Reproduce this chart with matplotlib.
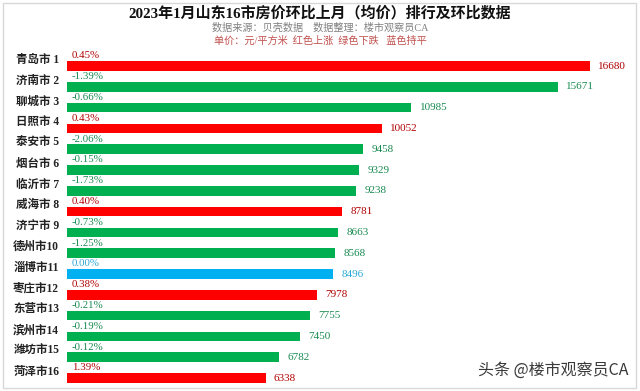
import matplotlib.pyplot as plt
from matplotlib.patches import Rectangle

plt.rcParams['font.family'] = ['Liberation Serif', 'Noto Sans CJK SC', 'DejaVu Sans']

cities = ['青岛市', '济南市', '聊城市', '日照市', '泰安市', '烟台市', '临沂市', '威海市',
          '济宁市', '德州市', '淄博市', '枣庄市', '东营市', '滨州市', '潍坊市', '菏泽市']
prices = [16680, 15671, 10985, 10052, 9458, 9329, 9238, 8781,
          8663, 8568, 8496, 7978, 7755, 7450, 6782, 6338]
changes = [0.45, -1.39, -0.66, 0.43, -2.06, -0.15, -1.73, 0.40,
           -0.73, -1.25, 0.00, 0.38, -0.21, -0.19, -0.12, 1.39]

bar_up, bar_down, bar_flat = '#ff0000', '#00b050', '#00b0f0'
txt_up, txt_down, txt_flat = '#b00000', '#178a50', '#2aa8d8'


def pick(c):
    if c > 0:
        return bar_up, txt_up
    if c < 0:
        return bar_down, txt_down
    return bar_flat, txt_flat


fig = plt.figure(figsize=(6.4, 3.91), dpi=100)
fig.patches.append(Rectangle((0.004, 0.008), 0.99, 0.985, transform=fig.transFigure,
                             fill=False, edgecolor='#d8d8d8', linewidth=1))

ax = fig.add_axes([67 / 640, 3 / 391, (630 - 67) / 640, (341 - 3) / 391])

for i, (p, c) in enumerate(zip(prices, changes)):
    bc, tc = pick(c)
    ax.barh(i, p, height=0.46, color=bc, left=0)
    ax.annotate(f'{p}', (p, i), xytext=(6, 0), textcoords='offset points',
                va='center', ha='left', fontsize=8, color=tc)
    ax.text(150, i - 0.27, f'{c:.2f}%', va='bottom', ha='left', fontsize=7.8, color=tc)
    rank = str(i + 1) if i + 1 >= 10 else ' ' + str(i + 1)
    ax.text(-250, i - 0.3, f'{cities[i]}{rank}', va='center', ha='right',
            fontsize=8.3, fontweight='bold', color='#222222')

ax.set_xlim(0, 17970)
ax.set_ylim(15.48, -0.77)
ax.axis('off')

fig.text(0.5, 1 - 13 / 391, '2023年1月山东16市房价环比上月（均价）排行及环比数据',
         ha='center', va='center', fontsize=10.8, fontweight='bold', color='#111111')
fig.text(0.5, 1 - 28 / 391, '数据来源：贝壳数据    数据整理：楼市观察员CA',
         ha='center', va='center', fontsize=7.3, color='#808080')
fig.text(0.5, 1 - 41 / 391, '单价：元/平方米  红色上涨  绿色下跌   蓝色持平',
         ha='center', va='center', fontsize=7.3, color='#c0504d')

fig.text(629 / 640, 1 - 370 / 391, '头条 @楼市观察员CA', ha='right', va='center',
         fontsize=11.5, color='#3a3a3a', family=['Noto Sans CJK SC', 'DejaVu Sans'],
         bbox=dict(facecolor='white', edgecolor='none', pad=2, alpha=0.9))

fig.savefig('out.png', dpi=100)
